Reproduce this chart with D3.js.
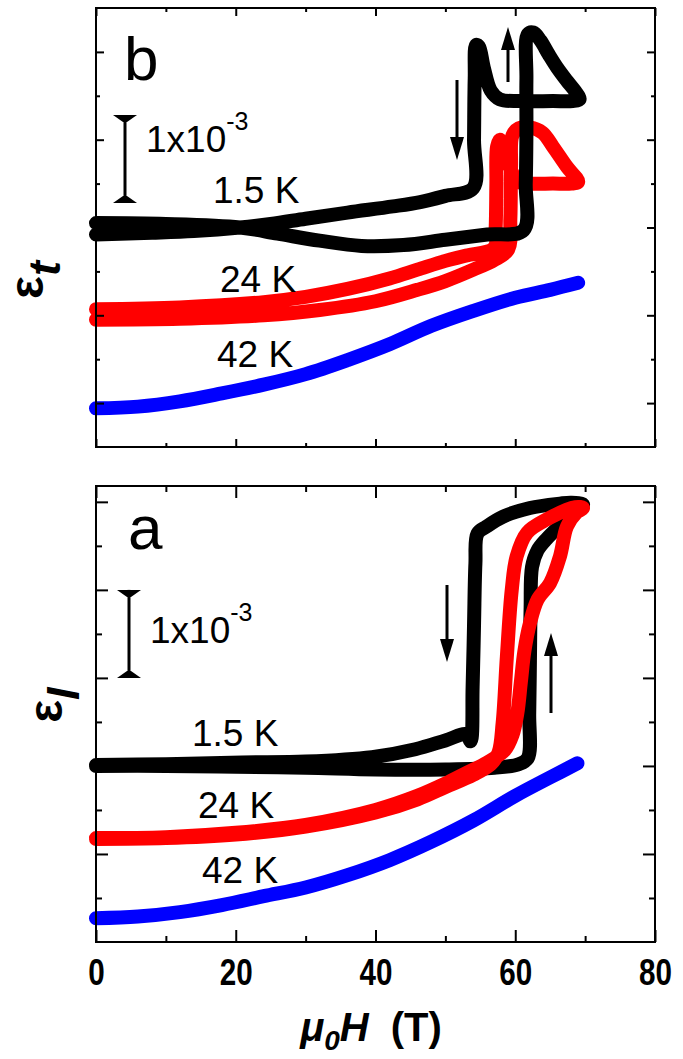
<!DOCTYPE html>
<html>
<head>
<meta charset="utf-8">
<script src="https://cdn.jsdelivr.net/npm/d3@7"></script>
<style>
  body { margin: 0; background: #fff; }
  svg { display: block; font-family: "Liberation Sans", Arial, sans-serif; }
</style>
</head>
<body>
<svg id="chart" width="683" height="1059"></svg>
<script>
// field axis (T)
const fieldTicks = [0, 20, 40, 60, 80];
const fieldMinor = [10, 30, 50, 70];

// panel b: transverse strain, units of 1e-3 (curves offset for clarity)
const bMajor = [0.5, 1.5, 2.5, 3.5, 4.5];
const bMinor = [1, 2, 3, 4];
const b42K = [[0,0.44],[6,0.46],[12,0.52],[18,0.61],[24,0.71],[30,0.83],[36,0.99],[42,1.17],[48,1.38],[54,1.55],[60,1.70],[65,1.79],[69,1.87]];
const b24K = [
  [0,1.45],[12,1.46],[24,1.50],[32,1.56],[40,1.66],[46,1.79],[50,1.89],[54,2.02],[57,2.13],[59.0,2.25],
  [59.3,2.6],[59.4,3.2],[59.6,3.55],[60.5,3.63],[62.1,3.64],[63.9,3.58],[65.4,3.42],[67.4,3.19],[69.0,3.02],
  [68,3.0],[65.4,3.0],[62,3.0],[60.5,3.02],[59.4,3.15],[58.4,3.4],[57.8,3.50],[57.4,3.42],[57.3,3.0],[57.2,2.5],[57.0,2.27],
  [53,2.18],[50,2.12],[46,2.02],[42,1.92],[36,1.80],[30,1.71],[24,1.65],[12,1.59],[0,1.57]
];
const b1p5K = [
  [0,2.55],[10,2.54],[20.6,2.50],[26,2.43],[32,2.35],[38,2.29],[44,2.30],[50,2.36],[56,2.42],[61.2,2.47],
  [61.5,3.0],[61.6,3.6],[61.6,4.2],[61.8,4.70],[62.6,4.72],[63.6,4.63],[64.8,4.47],[66,4.32],[67.4,4.17],[68.6,4.05],[69.2,3.96],
  [68.2,3.94],[65.4,3.94],[60.7,3.94],[57.8,3.96],[56.5,4.06],[55.5,4.32],[54.8,4.56],[54.4,4.58],[54.2,4.2],[54.1,3.5],[54.0,2.95],
  [50,2.86],[46.4,2.79],[42.5,2.74],[36,2.67],[30,2.60],[25,2.54],[20.6,2.50],[14,2.46],[8,2.44],[0,2.42]
];

// panel a: longitudinal strain, units of 1e-3
const aMajor = [1, 2, 3, 4, 5];
const aMinor = [0.5, 1.5, 2.5, 3.5, 4.5];
const a42K = [[0,0.27],[6,0.29],[12,0.34],[18,0.42],[24,0.52],[30,0.62],[36,0.76],[42,0.93],[48,1.14],[54,1.38],[60,1.66],[65,1.87],[68.9,2.03]];
const a24K = [
  [0,1.18],[10,1.19],[20,1.24],[30,1.33],[40,1.50],[46,1.66],[50,1.80],[53,1.92],[56,2.04],[58.5,2.18],[59.6,2.35],[60.3,2.6],[60.8,2.95],[61.3,3.3],[62.1,3.62],[63.2,3.89],[65,4.08],[66.4,4.38],[67.4,4.72],[68.8,4.88],[69.7,4.93],
  [68.6,4.94],[64.5,4.80],[61.7,4.65],[60.2,4.38],[59.5,4.0],[58.8,3.24],[58.2,2.49],[57.6,2.15],[56.5,2.02],[54,1.90],[50,1.76],[46,1.62],[40,1.47],[30,1.31],[20,1.22],[10,1.18],[0,1.17]
];
const a1p5K = [
  [0,2.00],[10,2.00],[20,1.99],[30,1.98],[40,1.96],[50,1.96],[57,1.98],[60.5,2.02],[61.8,2.09],
  [62.0,2.6],[62.1,3.2],[62.2,3.8],[62.4,4.26],[63.2,4.45],[64.5,4.58],[66.4,4.73],[68.8,4.91],[69.7,4.97],
  [68,4.99],[66.4,4.98],[62.1,4.93],[58.2,4.83],[55.9,4.72],[54.6,4.64],[54.3,4.3],[54.1,3.6],[53.9,2.9],[53.6,2.28],[53.0,2.36],
  [50,2.29],[45.7,2.19],[39.5,2.10],[30,2.05],[20.9,2.04],[10,2.02],[0,2.01]
];

const tempLabels = ["1.5 K", "24 K", "42 K"];

const svg = d3.select("#chart");
const x = d3.scaleLinear().domain([0, 80]).range([96, 655]);

const drawPanel = (p) => {
  const y = d3.scaleLinear().domain(p.domain).range([p.bottom, p.top]);
  const g = svg.append("g");

  const line = d3.line()
    .x(d => x(d[0]))
    .y(d => y(d[1]))
    .curve(d3.curveCatmullRom.alpha(0.5));

  p.series.forEach(s => {
    g.append("path")
      .datum(s.data)
      .attr("d", line)
      .attr("fill", "none")
      .attr("stroke", s.color)
      .attr("stroke-width", 14)
      .attr("stroke-linecap", "round")
      .attr("stroke-linejoin", "round");
  });

  // inward ticks on all four sides
  const ticks = (axis, tf) => {
    g.append("g")
      .attr("transform", tf)
      .call(axis)
      .call(a => a.select(".domain").remove())
      .selectAll("line").attr("stroke-width", 2);
  };
  ticks(d3.axisBottom(x).tickValues(fieldTicks).tickSize(-p.major).tickFormat(""), `translate(0,${p.bottom})`);
  ticks(d3.axisBottom(x).tickValues(fieldMinor).tickSize(-p.minor).tickFormat(""), `translate(0,${p.bottom})`);
  ticks(d3.axisTop(x).tickValues(fieldTicks).tickSize(-p.major).tickFormat(""), `translate(0,${p.top})`);
  ticks(d3.axisTop(x).tickValues(fieldMinor).tickSize(-p.minor).tickFormat(""), `translate(0,${p.top})`);
  ticks(d3.axisLeft(y).tickValues(p.yMajor).tickSize(-p.major).tickFormat(""), `translate(96,0)`);
  ticks(d3.axisLeft(y).tickValues(p.yMinor).tickSize(-p.minor).tickFormat(""), `translate(96,0)`);
  ticks(d3.axisRight(y).tickValues(p.yMajor).tickSize(-p.major).tickFormat(""), `translate(655,0)`);
  ticks(d3.axisRight(y).tickValues(p.yMinor).tickSize(-p.minor).tickFormat(""), `translate(655,0)`);

  g.append("rect")
    .attr("x", 96).attr("y", p.top)
    .attr("width", 559).attr("height", p.bottom - p.top)
    .attr("fill", "none").attr("stroke", "#000").attr("stroke-width", 2);

  // panel letter
  g.append("text").attr("x", p.letterPos[0]).attr("y", p.letterPos[1])
    .attr("font-size", 62).text(p.letter);

  // temperature labels
  tempLabels.forEach((t, i) => {
    g.append("text").attr("x", p.labelPos[i][0]).attr("y", p.labelPos[i][1])
      .attr("font-size", 37).text(t);
  });

  // 1x10^-3 scale bar
  const bx = p.bar.x, y0 = y(p.bar.v), y1 = y(p.bar.v + 1);
  g.append("line").attr("x1", bx).attr("x2", bx).attr("y1", y1).attr("y2", y0)
    .attr("stroke", "#000").attr("stroke-width", 3);
  g.append("path").attr("d", `M${bx-12},${y1} L${bx+12},${y1} L${bx+2},${y1+7} L${bx-2},${y1+7} Z`);
  g.append("path").attr("d", `M${bx-12},${y0} L${bx+12},${y0} L${bx+2},${y0-7} L${bx-2},${y0-7} Z`);
  const bt = g.append("text").attr("x", bx + 21).attr("y", p.bar.textY).attr("font-size", 37);
  bt.append("tspan").text("1x10");
  bt.append("tspan").attr("font-size", 25).attr("dy", -22).text("-3");

  // sweep arrows
  p.arrows.forEach(a => {
    const dir = Math.sign(a[2] - a[1]);
    g.append("line").attr("x1", a[0]).attr("x2", a[0]).attr("y1", a[1]).attr("y2", a[2] - dir * 18)
      .attr("stroke", "#000").attr("stroke-width", 3);
    g.append("path").attr("d", `M${a[0]-7},${a[2] - dir * 23} L${a[0]+7},${a[2] - dir * 23} L${a[0]},${a[2]} Z`);
  });

  // y label, rotated
  const yl = g.append("text")
    .attr("transform", `translate(${p.ylabPos[0]},${p.ylabPos[1]}) rotate(-90)`)
    .attr("text-anchor", "middle").attr("font-weight", "bold");
  yl.append("tspan").attr("font-size", 48).text("ε");
  yl.append("tspan").attr("font-size", 45).attr("font-style", "italic").attr("dy", 17).text(p.ysub);

  return { g, y };
};

drawPanel({
  top: 8, bottom: 447, domain: [0, 5],
  yMajor: bMajor, yMinor: bMinor, major: 8, minor: 4,
  series: [
    { data: b42K, color: "#0000ff" },
    { data: b24K, color: "#ff0000" },
    { data: b1p5K, color: "#000000" }
  ],
  letter: "b", letterPos: [124, 80],
  labelPos: [[213, 203], [220, 292], [217, 367]],
  bar: { x: 125, v: 2.78, textY: 152 },
  arrows: [[457, 80, 160], [508, 82, 27]],
  ysub: "t", ylabPos: [43, 280]
});

drawPanel({
  top: 486, bottom: 942, domain: [0, 5.18],
  yMajor: aMajor, yMinor: aMinor, major: 12, minor: 6,
  series: [
    { data: a42K, color: "#0000ff" },
    { data: a1p5K, color: "#000000" },
    { data: a24K, color: "#ff0000" }
  ],
  letter: "a", letterPos: [128, 549],
  labelPos: [[192, 746], [198, 818], [202, 883]],
  bar: { x: 129, v: 3, textY: 643 },
  arrows: [[447, 585, 662], [551, 713, 633]],
  ysub: "l", ylabPos: [62, 705]
});

// field tick labels under panel a
svg.append("g")
  .attr("transform", "translate(0,942)")
  .call(d3.axisBottom(x).tickValues(fieldTicks).tickSize(0).tickFormat(d3.format("d")))
  .call(a => a.select(".domain").remove())
  .selectAll("text")
  .attr("y", 43).attr("dy", null)
  .attr("font-size", 37).attr("font-weight", "bold")
  .attr("font-family", "Liberation Sans, Arial, sans-serif")
  .attr("fill", "#000")
  .attr("transform", "scale(0.8,1)");

// x axis title
const xt = svg.append("text").attr("x", 371).attr("y", 1041)
  .attr("text-anchor", "middle").attr("font-size", 40).attr("font-weight", "bold");
xt.append("tspan").attr("font-style", "italic").text("μ");
xt.append("tspan").attr("font-style", "italic").attr("font-size", 28).attr("dy", 9).text("0");
xt.append("tspan").attr("font-style", "italic").attr("dy", -9).text("H");
xt.append("tspan").attr("dx", 22).text("(T)");
</script>
</body>
</html>
